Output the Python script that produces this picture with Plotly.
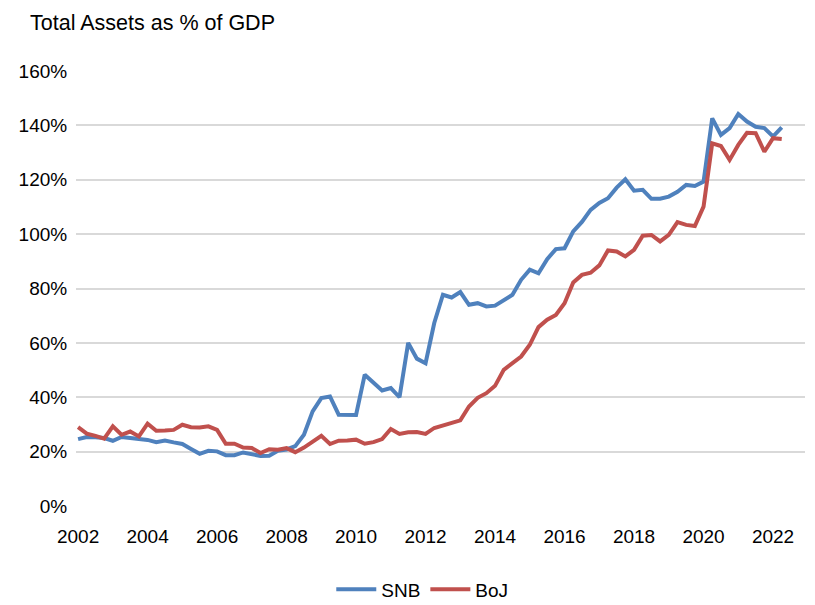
import plotly.graph_objects as go

# Quarterly observations, 2002Q1 .. 2022Q2
quarters = [2002 + 0.25 * i for i in range(82)]

snb = [24.6, 25.4, 25.3, 25.0, 24.0, 25.4, 25.0, 24.6, 24.3, 23.5,
       24.1, 23.4, 22.8, 21.0, 19.2, 20.3, 20.1, 18.7, 18.7, 19.7,
       19.1, 18.4, 18.5, 20.3, 20.8, 22.0, 26.2, 34.8, 39.7, 40.3,
       33.6, 33.5, 33.5, 48.3, 45.4, 42.5, 43.4, 40.0, 60.0, 54.2,
       52.5, 67.3, 77.7, 76.7, 78.7, 74.0, 74.6, 73.4, 73.7, 75.6,
       77.7, 83.2, 86.9, 85.6, 90.8, 94.5, 94.8, 101.0, 104.5, 108.9,
       111.5, 113.2, 117.1, 120.2, 116.0, 116.3, 113.0, 113.0, 113.8, 115.6,
       118.1, 117.7, 119.3, 142.6, 136.5, 139.0, 144.2, 141.4, 139.5, 139.0,
       135.9, 139.3]

boj = [29.0, 26.6, 25.8, 24.8, 29.3, 26.2, 27.4, 25.6, 30.3, 27.7,
       27.8, 28.0, 29.9, 29.0, 28.9, 29.3, 28.0, 22.9, 22.9, 21.5,
       21.3, 19.5, 20.9, 20.7, 21.3, 19.8, 21.5, 23.7, 25.8, 22.8,
       24.0, 24.1, 24.4, 22.9, 23.5, 24.6, 28.3, 26.5, 27.1, 27.2,
       26.5, 28.7, 29.6, 30.5, 31.5, 36.6, 39.8, 41.5, 44.2, 50.1,
       52.6, 55.0, 59.3, 65.8, 68.5, 70.3, 74.6, 82.2, 85.0, 85.8,
       88.5, 94.0, 93.6, 91.8, 94.2, 99.4, 99.7, 97.3, 99.7, 104.4,
       103.4, 103.0, 110.1, 133.4, 132.4, 127.3, 132.8, 137.3, 137.1, 130.3,
       135.3, 135.0]

x_tick_vals = list(range(2002, 2023, 2))
x_tick_text = [str(v) for v in x_tick_vals]
y_tick_vals = list(range(0, 161, 20))
y_tick_text = [f"{v}%" for v in y_tick_vals]

FONT = "Liberation Sans, Arial, sans-serif"

fig = go.Figure()
fig.add_trace(go.Scatter(x=quarters, y=snb, name="SNB", mode="lines",
                         line=dict(color="#4f81bd", width=4)))
fig.add_trace(go.Scatter(x=quarters, y=boj, name="BoJ", mode="lines",
                         line=dict(color="#c0504d", width=4)))

fig.update_layout(
    width=807, height=597,
    margin=dict(l=68, r=10, t=63, b=99, autoexpand=False),
    paper_bgcolor="white", plot_bgcolor="white",
    font=dict(family=FONT, size=19, color="#000000"),
    title=dict(text="Total Assets as % of GDP", x=0.0273, xanchor="left",
               y=0.9765, yanchor="middle", font=dict(family=FONT, size=21.5)),
    legend=dict(orientation="h", x=0.475, xanchor="center",
                yref="container", y=0.026, yanchor="middle",
                font=dict(family=FONT, size=19),
                itemwidth=40, traceorder="normal"),
    showlegend=True,
)
fig.update_xaxes(range=[2001.94, 2022.92], tickvals=x_tick_vals,
                 ticktext=x_tick_text, showgrid=False, zeroline=False,
                 showline=False, ticks="outside", ticklen=13,
                 tickcolor="rgba(0,0,0,0)", automargin=False)
fig.update_yaxes(range=[0, 160], tickvals=y_tick_vals, ticktext=y_tick_text,
                 showgrid=True, gridcolor="#d9d9d9", gridwidth=1.5,
                 zeroline=False, showline=False, ticks="outside", ticklen=4,
                 tickcolor="rgba(0,0,0,0)", automargin=False)

fig.write_html("out.html")
